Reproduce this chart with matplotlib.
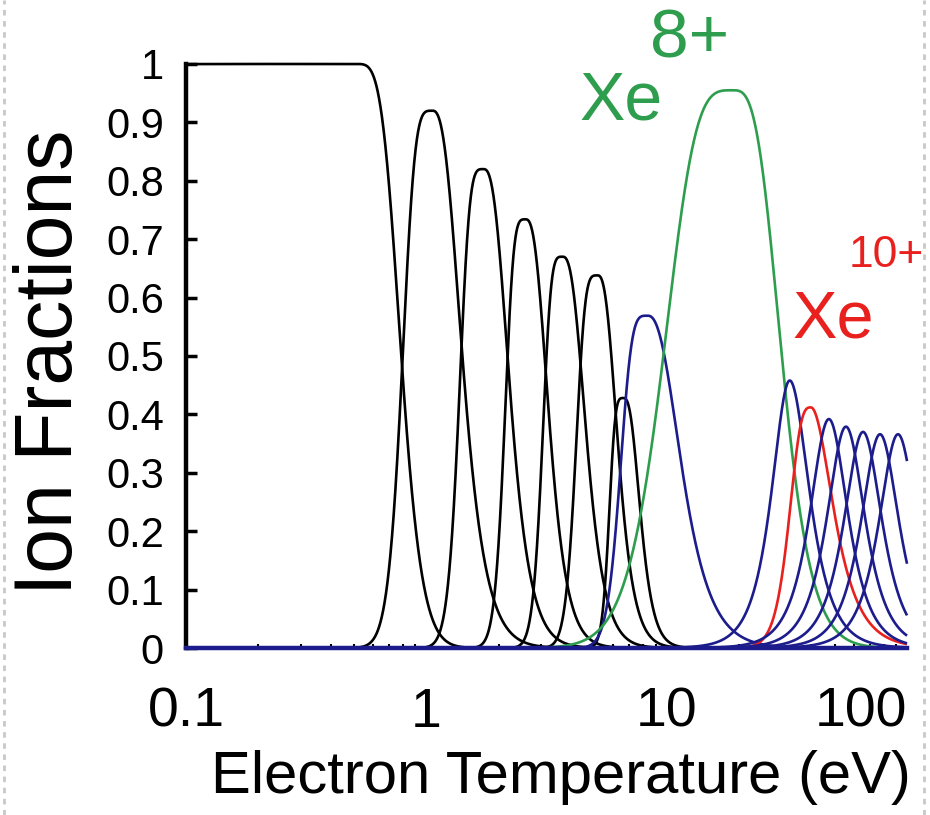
import numpy as np
import matplotlib
matplotlib.use("Agg")
import matplotlib.pyplot as plt
from matplotlib.lines import Line2D

# Xe charge states 0..15
charge = [0, 1, 2, 3, 4, 5, 6, 7, 8, 9, 10, 11, 12, 13, 14, 15]
# temperature (eV) at which each ion fraction peaks
peak_temp = [0.506, 1.06, 1.73, 2.59, 3.69, 5.16, 6.62, 8.33,
             18.8, 32.5, 39.8, 47.3, 55.7, 65.6, 77.2, 91.7]
# peak ion fraction
peak_frac = [1.0, 0.92, 0.82, 0.734, 0.67, 0.638, 0.428, 0.569,
             0.955, 0.458, 0.412, 0.392, 0.379, 0.37, 0.366, 0.366]
# width below / above the peak, in decades of temperature
width_lo = [5.0, 0.112, 0.090, 0.078, 0.075, 0.081, 0.054, 0.102,
            0.253, 0.067, 0.079, 0.071, 0.071, 0.071, 0.071, 0.071]
width_hi = [0.167, 0.107, 0.094, 0.083, 0.085, 0.073, 0.060, 0.121,
            0.177, 0.073, 0.083, 0.071, 0.071, 0.071, 0.071, 0.071]
# edge sharpness below / above the peak
shape_lo = [2, 2, 2, 2, 2, 2, 2, 2, 1.8, 1, 1.5, 1, 1, 1, 1, 1]
shape_hi = [2, 1.3, 1.3, 1.3, 1.3, 1.3, 1.3, 1.2, 1.6, 1, 1, 1, 1, 1, 1, 1]

x_ticks = [0.1, 1, 10, 100]
x_ticklabels = ["0.1", "1", "10", "100"]
y_ticks = [0, 0.1, 0.2, 0.3, 0.4, 0.5, 0.6, 0.7, 0.8, 0.9, 1]
y_ticklabels = ["0", "0.1", "0.2", "0.3", "0.4", "0.5", "0.6", "0.7", "0.8", "0.9", "1"]

BLACK = "#000000"
NAVY = "#1c1c8c"
GREEN = "#2e9e4e"
RED = "#e8211f"
plt.rcParams["font.family"] = ["Liberation Sans", "DejaVu Sans"]


def ion_curve(T, t0, h, wl, wh, pl, ph):
    d = np.log10(T) - np.log10(t0)
    w = np.where(d < 0, wl, wh)
    p = np.where(d < 0, pl, ph)
    u = np.clip(np.abs(d / w) ** p, 0, 600)
    return h / np.cosh(u)


def line_color(z):
    if z <= 6:
        return BLACK
    if z == 8:
        return GREEN
    if z == 10:
        return RED
    return NAVY


T = np.logspace(-1, 2, 3000)

fig = plt.figure(figsize=(9.3, 8.15), dpi=100)
ax = fig.add_axes([0.2, 0.2049, 0.7753, 0.7166])

for i, z in enumerate(charge):
    frac = ion_curve(T, peak_temp[i], peak_frac[i], width_lo[i], width_hi[i],
                     shape_lo[i], shape_hi[i])
    ax.plot(T, frac, color=line_color(z), lw=1.9, solid_capstyle="butt",
            clip_on=False)

ax.set_xscale("log")
ax.set_xlim(0.1, 100)
ax.set_ylim(0, 1)

ax.set_xticks(x_ticks)
ax.set_xticklabels(x_ticklabels, fontsize=40)
ax.get_xticklabels()[-1].set_horizontalalignment("right")
ax.set_yticks(y_ticks)
ax.set_yticklabels(y_ticklabels, fontsize=30)
ax.tick_params(axis="y", direction="in", length=8, width=2.5, pad=16)
ax.tick_params(axis="x", which="major", direction="in", length=0, pad=28)
ax.tick_params(axis="x", which="minor", direction="in", length=3, width=1.5)

for side in ["top", "right"]:
    ax.spines[side].set_visible(False)
ax.spines["left"].set_linewidth(3.2)
ax.spines["bottom"].set_linewidth(3.2)
ax.spines["bottom"].set_color(NAVY)

ax.set_xlabel("Electron Temperature (eV)", fontsize=43)
ax.xaxis.set_label_coords(0.52, -0.175)
ax.set_ylabel("Ion Fractions", fontsize=58)
ax.yaxis.set_label_coords(-0.134, 0.49)

# charge state annotations
W, H = 930.0, 815.0
fig.text(579 / W, 1 - 120 / H, "Xe", color=GREEN, fontsize=49, ha="left", va="baseline")
fig.text(650 / W, 1 - 58 / H, "8+", color=GREEN, fontsize=50, ha="left", va="baseline")
fig.text(792 / W, 1 - 337 / H, "Xe", color=RED, fontsize=48, ha="left", va="baseline")
fig.text(849 / W, 1 - 267 / H, "10+", color=RED, fontsize=32, ha="left", va="baseline")

# dashed frame edges of the original slide
for xe in (4 / W, 924 / W):
    fig.add_artist(Line2D([xe, xe], [0, 1], transform=fig.transFigure, color="#c8c8c8",
                          lw=2, ls=(0, (2, 2))))

fig.savefig("out.png", dpi=100)
